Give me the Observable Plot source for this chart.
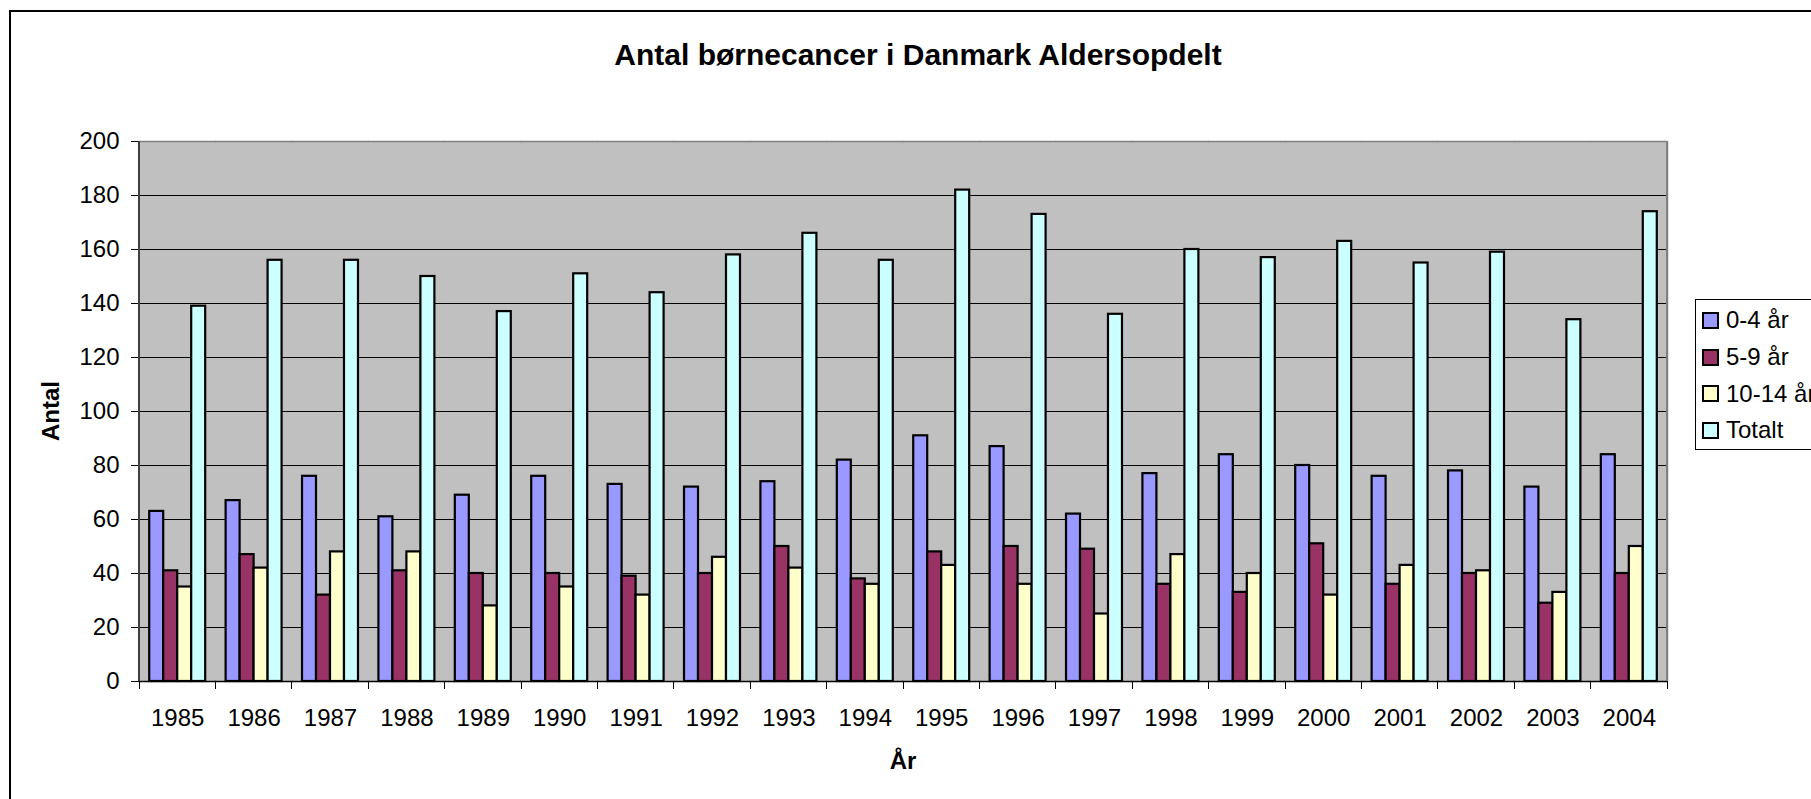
<!DOCTYPE html>
<html>
<head>
<meta charset="utf-8">
<script src="https://cdn.jsdelivr.net/npm/d3@7"></script>
<script src="https://cdn.jsdelivr.net/npm/@observablehq/plot@0.6"></script>
<style>
  body { margin: 0; background: #fff; font-family: "Liberation Sans", Arial, sans-serif; color: #000; }
  #chart { position: relative; width: 1811px; height: 799px; overflow: hidden; background: #fff; }
  #chart svg.plot { position: absolute; left: 0; top: 0; }
  .border { position: absolute; left: 9px; top: 10px; width: 2000px; height: 1000px; border-left: 2px solid #000; border-top: 2px solid #000; }
  .title { position: absolute; left: 0; width: 1836px; top: 40px; text-align: center; font-size: 30px; line-height: 30px; font-weight: bold; white-space: nowrap; }
  .xlabel { position: absolute; left: 0; width: 1806px; top: 749px; text-align: center; font-size: 24px; line-height: 24px; font-weight: bold; }
  .ylabel { position: absolute; left: 51px; top: 411px; transform: translate(-50%, -50%) rotate(-90deg); font-size: 24px; line-height: 24px; font-weight: bold; white-space: nowrap; }
  .legend { position: absolute; left: 1695px; top: 299px; width: 200px; height: 151px; border: 1px solid #000; background: #fff; box-sizing: border-box; padding-top: 2px; }
  .legend .row { display: flex; align-items: center; height: 36.7px; white-space: nowrap; font-size: 24px; line-height: 24px; }
  .legend .sw { width: 17px; height: 17px; border: 2px solid #000; box-sizing: border-box; margin-left: 6px; margin-right: 7px; flex: none; }
</style>
</head>
<body>
<div id="chart">
  <div class="border"></div>
  <div class="title">Antal børnecancer i Danmark Aldersopdelt</div>
  <div class="ylabel">Antal</div>
  <div class="xlabel">År</div>
  <div class="legend" id="legend"></div>
</div>
<script>
const years = ["1985","1986","1987","1988","1989","1990","1991","1992","1993","1994",
               "1995","1996","1997","1998","1999","2000","2001","2002","2003","2004"];
const seriesNames = ["0-4 år", "5-9 år", "10-14 år", "Totalt"];
const age0_4   = [63, 67, 76, 61, 69, 76, 73, 72, 74, 82, 91, 87, 62, 77, 84, 80, 76, 78, 72, 84];
const age5_9   = [41, 47, 32, 41, 40, 40, 39, 40, 50, 38, 48, 50, 49, 36, 33, 51, 36, 40, 29, 40];
const age10_14 = [35, 42, 48, 48, 28, 35, 32, 46, 42, 36, 43, 36, 25, 47, 40, 32, 43, 41, 33, 50];
const totalt   = [139, 156, 156, 150, 137, 151, 144, 158, 166, 156, 182, 173, 136, 160, 157, 163, 155, 159, 134, 174];
const yTicks = [0, 20, 40, 60, 80, 100, 120, 140, 160, 180, 200];
const colors = ["#9999ff", "#993366", "#ffffcc", "#ccffff"];

const seriesValues = [age0_4, age5_9, age10_14, totalt];
const table = [];
years.forEach((yr, i) => {
  seriesNames.forEach((s, j) => {
    table.push({year: yr, series: s, value: seriesValues[j][i]});
  });
});

const plot = Plot.plot({
  width: 1811,
  height: 799,
  marginLeft: 139,
  marginRight: 144,
  marginTop: 141,
  marginBottom: 118,
  style: {fontFamily: '"Liberation Sans", Arial, sans-serif', color: "#000", background: "transparent"},
  fx: {domain: years, paddingInner: 0, paddingOuter: 0, round: false},
  x: {domain: seriesNames, paddingInner: 0, paddingOuter: 0.73, round: false, axis: null},
  y: {domain: [0, 200]},
  color: {domain: seriesNames, range: colors},
  marks: [
    Plot.frame({fill: "#c0c0c0", stroke: null, insetLeft: -1, insetRight: -1}),
    Plot.ruleY(yTicks.filter(d => d > 0 && d < 200), {stroke: "#000", strokeWidth: 1, insetLeft: -0.5, insetRight: -0.5}),
    Plot.ruleY([200], {stroke: "#808080", strokeWidth: 1.5, insetLeft: -0.5, insetRight: -0.5}),
    Plot.barY(table, {fx: "year", x: "series", y: "value", fill: "series", stroke: "#000", strokeWidth: 2.2}),
    Plot.ruleY([0], {stroke: "#000", strokeWidth: 1.5, insetLeft: -0.5, insetRight: -0.5}),
    Plot.axisY({ticks: yTicks, tickSize: 8, tickPadding: 12, fontSize: 24, label: null, stroke: "#000"}),
    Plot.axisFx({anchor: "bottom", tickSize: 0, tickPadding: 27, fontSize: 24, label: null})
  ]
});
plot.classList.add("plot");
document.getElementById("chart").insertBefore(plot, document.querySelector(".title"));

// plot-area edges and category boundary ticks, positioned from Plot's own scales
const fx = plot.scale("fx");
const ys = plot.scale("y");
const x0 = fx.range[0], x1 = fx.range[1];
const yb = ys.apply(0), yt = ys.apply(200);
const g = d3.select(plot).append("g").attr("shape-rendering", "crispEdges");
g.append("line").attr("x1", x0).attr("x2", x0).attr("y1", yt).attr("y2", yb)
  .attr("stroke", "#404040").attr("stroke-width", 1.5);
g.append("line").attr("x1", x1).attr("x2", x1).attr("y1", yt).attr("y2", yb)
  .attr("stroke", "#808080").attr("stroke-width", 1.5);
const bounds = fx.domain.map(d => fx.apply(d)).concat([x1]);
g.selectAll("line.tk").data(bounds).join("line").attr("class", "tk")
  .attr("x1", d => d).attr("x2", d => d).attr("y1", yb).attr("y2", yb + 8)
  .attr("stroke", "#000").attr("stroke-width", 1);

// legend
const legend = document.getElementById("legend");
seriesNames.forEach((s, i) => {
  const row = document.createElement("div");
  row.className = "row";
  const sw = document.createElement("div");
  sw.className = "sw";
  sw.style.background = colors[i];
  const t = document.createElement("span");
  t.textContent = s;
  row.appendChild(sw);
  row.appendChild(t);
  legend.appendChild(row);
});
</script>
</body>
</html>
